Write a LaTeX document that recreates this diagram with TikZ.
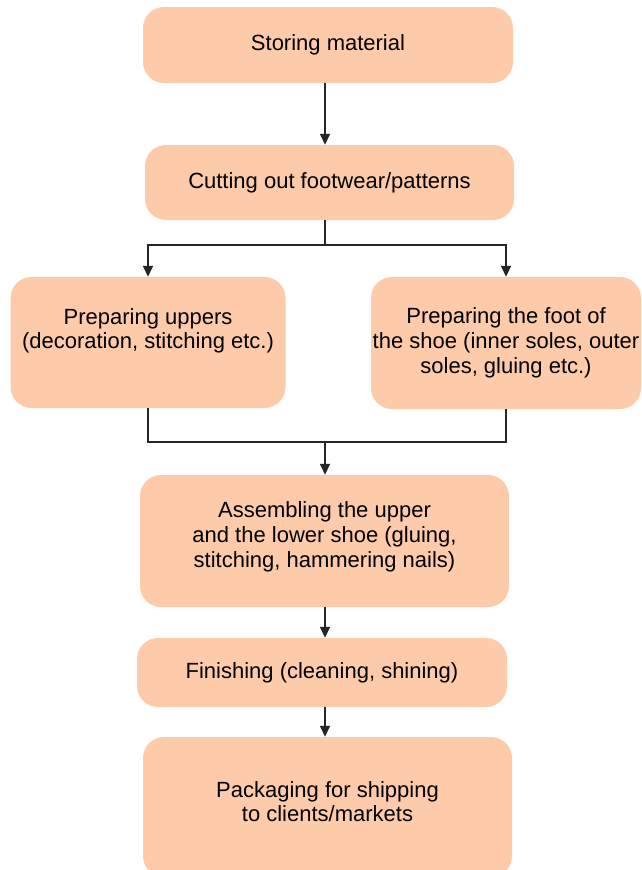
\documentclass[tikz,border=0pt]{standalone}
\usepackage{fontspec}
\setmainfont{Liberation Sans}
\usetikzlibrary{arrows.meta}
\definecolor{peach}{RGB}{253,203,170}
\begin{document}
\begin{tikzpicture}[x=1pt,y=-1pt,
  box/.style={fill=peach, draw=none, rounded corners=21pt, align=center,
    font=\fontsize{22}{24.8}\selectfont, inner sep=0pt},
  conn/.style={line width=1.6pt, draw=black!85},
  arr/.style={conn, -{Triangle[length=11pt,width=10pt]}}]
\clip (0,0) rectangle (641,870);
\node[box, minimum width=370, minimum height=76] (s1) at (328,45) {Storing material};
\node[box, minimum width=369, minimum height=75] (s2) at (329.5,182.5) {Cutting out footwear/patterns};
\node[box, minimum width=275, minimum height=131] (l) at (148,342.5) {Preparing uppers\\(decoration, stitching etc.)\\[3pt]\mbox{}};
\node[box, minimum width=270, minimum height=132] (r) at (506,343) {Preparing the foot of\\the shoe (inner soles, outer\\soles, gluing etc.)};
\node[box, minimum width=369, minimum height=132] (a) at (324.5,541) {Assembling the upper\\and the lower shoe (gluing,\\stitching, hammering nails)\\[-12pt]\mbox{}};
\node[box, minimum width=370, minimum height=69] (f) at (322,672.5) {Finishing (cleaning, shining)};
\node[box, minimum width=369, minimum height=140] (p) at (327.5,807) {Packaging for shipping\\to clients/markets\\[-14pt]\mbox{}};
\coordinate (sp) at (325,245);
\coordinate (jn) at (325,442);
\draw[arr] (s1.south -| sp) -- (s2.north -| sp);
\draw[conn] (s2.south -| sp) -- (sp);
\draw[arr] (sp) -| (l.north);
\draw[arr] (sp) -| (r.north);
\draw[conn] (l.south) |- (jn) -| (r.south);
\draw[arr] (jn) -- (a.north -| jn);
\draw[arr] (a.south -| jn) -- (f.north -| jn);
\draw[arr] (f.south -| jn) -- (p.north -| jn);
\end{tikzpicture}
\end{document}
